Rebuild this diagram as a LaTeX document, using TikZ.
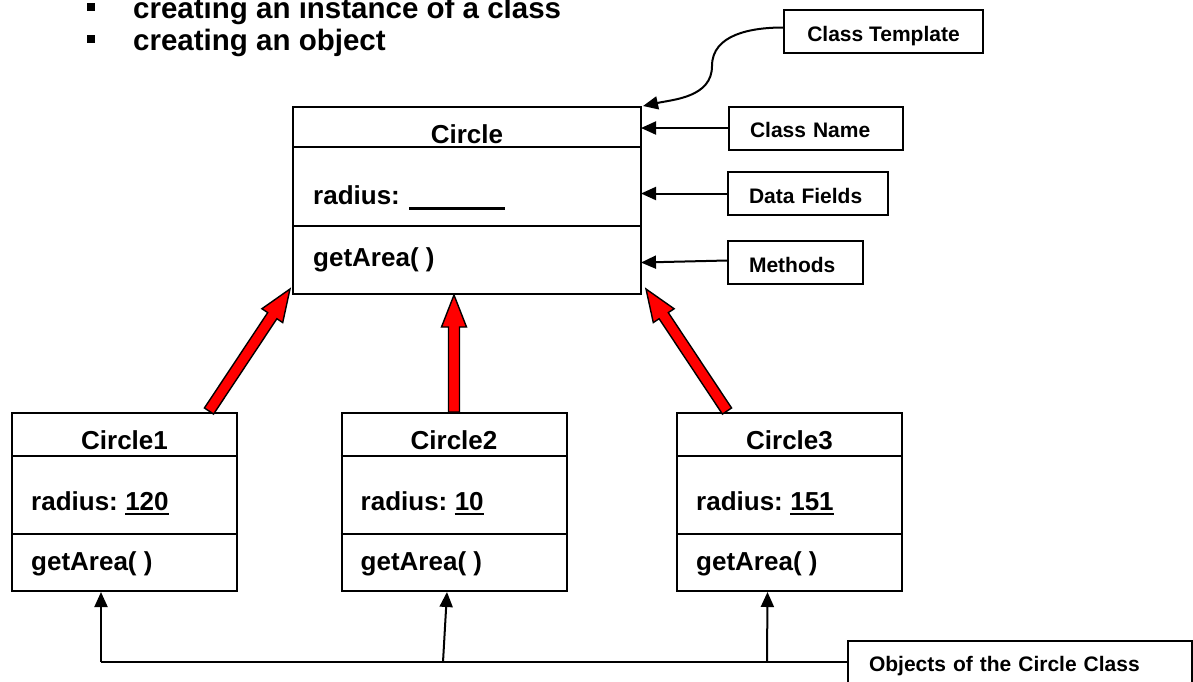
\documentclass[tikz,border=0pt]{standalone}
\usepackage{fontspec}
\setmainfont{Liberation Sans}
\usetikzlibrary{arrows.meta,calc}

\tikzset{
  boxline/.style={draw=black, line width=2pt},
  umlbox/.style={boxline, rectangle, inner sep=0pt},
  txt/.style={inner sep=0pt, font=\fontsize{26}{30}\selectfont\bfseries},
  head/.style={inner sep=0pt, anchor=base west, font=\fontsize{29.5}{32}\selectfont\bfseries},
  lbl/.style={draw=black, line width=2pt, rectangle, inner xsep=21pt, inner ysep=0pt,
    text height=19pt, text depth=0pt, minimum height=43pt, align=left,
    font=\fontsize{21}{24}\selectfont\bfseries},
  conn/.style={line width=2pt, -{Triangle[length=15pt,width=13pt]}},
  uline/.style={line width=2.8pt},
  redarr/.style={fill=red, draw=black, line width=1.4pt, line join=miter},
  bul/.style={fill=black, rectangle, inner sep=0pt, minimum size=8pt}
}

% block arrow from tail #1 to tip #2
\newcommand\redblockarrow[2]{%
  \coordinate (rab) at ($(#2)!32pt!(#1)$);
  \filldraw[redarr]
    ($(#1)!5.5pt!90:(#2)$) -- ($(rab)!5.5pt!90:(#2)$) -- ($(rab)!12.5pt!90:(#2)$) --
    (#2) --
    ($(rab)!12.5pt!-90:(#2)$) -- ($(rab)!5.5pt!-90:(#2)$) -- ($(#1)!5.5pt!-90:(#2)$) -- cycle;}

\begin{document}
\begin{tikzpicture}[x=1pt,y=-1pt]
\useasboundingbox (0,0) rectangle (1193,681);
\clip (0,0) rectangle (1193,681);

% bullet list
\node[bul] (b1) at (91,7) {};
\node[bul] (b2) at (91,39) {};
\node[head] (l1) at (133,18) {creating an instance of a class};
\node[head] (l2) at (133,50) {creating an object};

% class template
\node[umlbox, minimum width=348pt, minimum height=187pt] (cls) at (467,200.5) {};
\draw[boxline] ($(cls.north west)+(0,41)$) -- ($(cls.north east)+(0,41)$);
\draw[boxline] ($(cls.north west)+(0,120)$) -- ($(cls.north east)+(0,120)$);
\node[txt, anchor=base] (clsname) at (467,143.5) {Circle};
\node[txt, anchor=base west] (clsrad) at (313,204) {radius:};
\draw[uline] ([xshift=9pt,yshift=-4.5pt]clsrad.base east) -- ++(96pt,0pt);
\node[txt, anchor=base west] (clsget) at (313,266) {getArea( )};

% objects
\foreach \i/\c/\v in {1/124.5/120, 2/454/10, 3/789.5/151}{
  \node[umlbox, minimum width=225pt, minimum height=178pt] (o\i) at (\c,502) {};
  \draw[boxline] ($(o\i.north west)+(0,44)$) -- ($(o\i.north east)+(0,44)$);
  \draw[boxline] ($(o\i.north west)+(0,122)$) -- ($(o\i.north east)+(0,122)$);
  \node[txt, anchor=base] (t\i) at (\c,449.5) {Circle\i};
  \node[txt, anchor=base west] (r\i) at ($(o\i.north west)+(20,98)$) {radius:};
  \node[txt, anchor=base west] (n\i) at ([xshift=7pt]r\i.base east) {\v};
  \draw[uline] ([yshift=-4pt]n\i.base west) -- ([yshift=-4pt]n\i.base east);
  \node[txt, anchor=base west] (g\i) at ($(o\i.north west)+(20,158)$) {getArea( )};
}

% instantiation arrows
\coordinate (r1t) at (209,411);
\coordinate (r1h) at (290,289);
\coordinate (r2t) at (o2.north);
\coordinate (r2h) at (cls.south -| o2.north);
\coordinate (r3t) at (727,411);
\coordinate (r3h) at (646,289);
\redblockarrow{r1t}{r1h}
\redblockarrow{r2t}{r2h}
\redblockarrow{r3t}{r3h}

% callout labels
\node[lbl, anchor=west, minimum width=199pt, align=center] (tmpl) at (783,31.5) {Class Template};
\node[lbl, anchor=west, text width=132pt] (cname) at (728,128) {Class Name};
\node[lbl, anchor=west, text width=118pt] (dfields) at (727,193.5) {Data Fields};
\node[lbl, anchor=west, text width=93pt] (meth) at (727,262.5) {Methods};
\node[lbl, anchor=west, text width=302pt] (objs) at (847,662) {Objects of the Circle Class};

\coordinate (bend) at (712,66);
\coordinate (tipT) at (643,106);
\draw[conn] ([yshift=4pt]tmpl.west) to[out=180,in=90] (bend) to[out=-90,in=12] (tipT);
\draw[conn, shorten >=-1pt] (cname.west) -- (cls.east |- cname.west);
\draw[conn, shorten >=-1pt] (dfields.west) -- (cls.east |- dfields.west);
\draw[conn, shorten >=-1pt] ([yshift=2pt]meth.west) -- (cls.east |- meth.west);

% object connectors
\coordinate (j1) at (101,662);
\coordinate (j2) at (443,662);
\coordinate (j3) at (767,662);
\draw[line width=2pt] (j1) -- (objs.west);
\draw[conn] (j1) -- (j1 |- o1.south);
\draw[conn] (j2) -- ($(o2.south)+(-7,0)$);
\draw[conn] (j3) -- ($(o3.south)+(-22,0)$);
\end{tikzpicture}
\end{document}
